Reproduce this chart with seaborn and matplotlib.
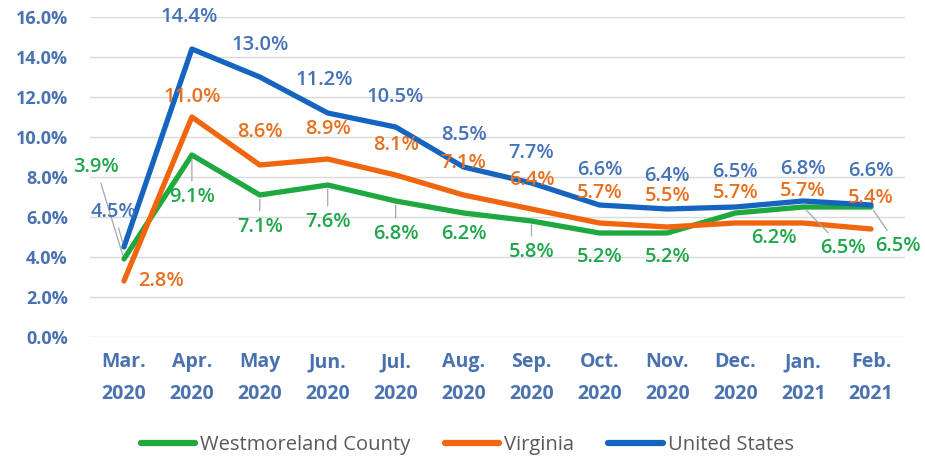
import pandas as pd
import seaborn as sns
import matplotlib.pyplot as plt

months = ["Mar.\n2020", "Apr.\n2020", "May\n2020", "Jun.\n2020", "Jul.\n2020", "Aug.\n2020",
          "Sep.\n2020", "Oct.\n2020", "Nov.\n2020", "Dec.\n2020", "Jan.\n2021", "Feb.\n2021"]
westmoreland = [3.9, 9.1, 7.1, 7.6, 6.8, 6.2, 5.8, 5.2, 5.2, 6.2, 6.5, 6.5]
virginia = [2.8, 11.0, 8.6, 8.9, 8.1, 7.1, 6.4, 5.7, 5.5, 5.7, 5.7, 5.4]
united_states = [4.5, 14.4, 13.0, 11.2, 10.5, 8.5, 7.7, 6.6, 6.4, 6.5, 6.8, 6.6]
areas = ["Westmoreland County", "Virginia", "United States"]

rows = []
for area, vals in zip(areas, [westmoreland, virginia, united_states]):
    for i, v in enumerate(vals):
        rows.append({"idx": i, "rate": v, "area": area})
df = pd.DataFrame(rows)

line_colors = {"Westmoreland County": "#1ea83f", "Virginia": "#f0650d", "United States": "#1565c0"}
label_colors = {"Westmoreland County": "#1fa64a", "Virginia": "#e8701e", "United States": "#4472b8"}

# label offsets in pixels (dx, dy) and whether a leader line is drawn
offsets = {
    "United States": [(-10, 35), (-3, 32), (0, 32), (-3, 33), (0, 30), (0, 32),
                      (0, 30), (0, 35), (0, 33), (0, 35), (0, 32), (0, 34)],
    "Virginia": [(37, 0), (0, 20), (0, 33), (0, 30), (0, 30), (0, 32),
                 (0, 29), (0, 30), (0, 31), (0, 30), (0, 32), (0, 31)],
    "Westmoreland County": [(-28, 92), (0, -42), (0, -32), (0, -37), (0, -33), (0, -21),
                            (0, -31), (0, -24), (0, -24), (39, -25), (40, -41), (27, -39)],
}
leaders = {
    "United States": [0],
    "Virginia": [],
    "Westmoreland County": [0, 1, 2, 3, 4, 6, 10, 11],
}

sns.set_theme(style="white")
plt.rcParams["font.family"] = ["Open Sans", "DejaVu Sans"]

fig = plt.figure(figsize=(9.25, 4.61), dpi=100)
ax = fig.add_axes([90 / 925, 1 - 337 / 461, 815 / 925, 320 / 461])

sns.lineplot(data=df, x="idx", y="rate", hue="area", palette=line_colors,
             linewidth=3.8, ax=ax, legend=False)

for area, vals in zip(areas, [westmoreland, virginia, united_states]):
    for i, v in enumerate(vals):
        dx, dy = offsets[area][i]
        arrow = None
        if i in leaders[area]:
            arrow = dict(arrowstyle="-", color="#a6a6a6", lw=0.9, shrinkA=2, shrinkB=3)
        ax.annotate(f"{v:.1f}%", (i, v), xytext=(dx, dy), textcoords="offset pixels",
                    ha="center", va="center", fontsize=14.5, fontweight="semibold",
                    color=label_colors[area], arrowprops=arrow, annotation_clip=False)

ax.set_xlim(-0.5, 11.5)
ax.set_ylim(0, 16)
ax.set_yticks(range(0, 17, 2))
ax.set_yticklabels([f"{t:.1f}%" for t in range(0, 17, 2)])
ax.set_xticks(range(12))
ax.set_xticklabels(months, linespacing=1.75)
ax.yaxis.grid(True, color="#d9d9d9", linewidth=1)
ax.set_axisbelow(True)
for s in ax.spines.values():
    s.set_visible(False)
ax.tick_params(axis="both", length=0, labelsize=13, labelcolor="#4a72b0")
ax.tick_params(axis="x", labelsize=14)
ax.tick_params(axis="y", pad=16)
ax.tick_params(axis="x", pad=11)
for lbl in ax.get_xticklabels() + ax.get_yticklabels():
    lbl.set_fontweight("bold")
ax.set_xlabel("")
ax.set_ylabel("")

handles = [plt.Line2D([], [], color=line_colors[a], linewidth=4.5) for a in areas]
fig.legend(handles, areas, loc="center", bbox_to_anchor=(0.505, 1 - 445 / 461), ncol=3,
           frameon=False, fontsize=14.5, handlelength=2.7, handletextpad=0.25,
           columnspacing=1.7, labelcolor="#595959")

fig.savefig("out.png", dpi=100)
